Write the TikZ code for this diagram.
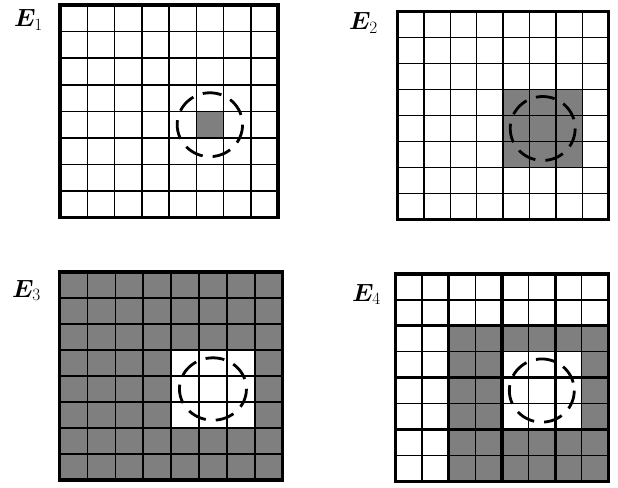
\documentclass[tikz,border=0pt]{standalone}
\usepackage{amsmath,amssymb}
\usepackage{bm}
\usepackage{xcolor}
\usetikzlibrary{calc}
\definecolor{ink}{HTML}{000000}
\definecolor{cellgray}{HTML}{7F7F7F}
\tikzset{
  gridline/.style={draw=ink, line width=1.5pt},
  frameline/.style={draw=ink, line width=3.2pt},
  blockline/.style={draw=ink, line width=3.2pt},
  shaded/.style={fill=cellgray},
  cleared/.style={fill=white},
  ring/.style={draw=ink, line width=2.8pt, dash pattern=on 19pt off 10pt},
  panellabel/.style={inner sep=0pt, font=\fontsize{23}{26}\selectfont}
}
\newcommand{\cellgrid}{%
  \foreach \k in {1,...,7} {
    \draw[gridline] (\k,0) -- (\k,8);
    \draw[gridline] (0,\k) -- (8,\k);
  }
}

\begin{document}
\begin{tikzpicture}[x=1pt,y=-1pt]
  \useasboundingbox (0,0) rectangle (618,487);

  % E1: one cell
  \begin{scope}[shift={(60,5)}, x=27.25pt, y=-26.6pt]
    \fill[shaded] (5,4) rectangle (6,5);
    \cellgrid
    \draw[frameline] (0,0) rectangle (8,8);
    \draw[ring] (5.5,4.5) circle[radius=1.2];
  \end{scope}
  \node[panellabel, anchor=base west] (lblA) at (14,27) {$\bm{E}_1$};

  % E2: 3x3 block
  \begin{scope}[shift={(397.5,11.5)}, x=26.4pt, y=-26pt]
    \fill[shaded] (4,3) rectangle (7,6);
    \cellgrid
    \draw[frameline] (0,0) rectangle (8,8);
    \draw[ring] (5.5,4.5) circle[radius=1.23];
  \end{scope}
  \node[panellabel, anchor=base west] (lblB) at (349,30) {$\bm{E}_2$};

  % E3: everything but the 3x3 block
  \begin{scope}[shift={(59.5,272)}, x=27.9pt, y=-26pt]
    \fill[shaded] (0,0) rectangle (8,8);
    \fill[cleared] (4,3) rectangle (7,6);
    \cellgrid
    \draw[frameline] (0,0) rectangle (8,8);
    \draw[ring] (5.5,4.5) circle[radius=1.2];
  \end{scope}
  \node[panellabel, anchor=base west] (lblC) at (12,297) {$\bm{E}_3$};

  % E4: 2x2 blocks
  \begin{scope}[shift={(395.5,274)}, x=26.6pt, y=-25.9pt]
    \fill[shaded] (2,2) rectangle (8,8);
    \fill[cleared] (4,3) rectangle (7,6);
    \cellgrid
    \foreach \k in {2,4,6} {
      \draw[blockline] (\k,0) -- (\k,8);
      \draw[blockline] (0,\k) -- (8,\k);
    }
    \draw[frameline] (0,0) rectangle (8,8);
    \draw[ring] (5.5,4.5) circle[radius=1.22];
  \end{scope}
  \node[panellabel, anchor=base west] (lblD) at (352,301) {$\bm{E}_4$};
\end{tikzpicture}
\end{document}
